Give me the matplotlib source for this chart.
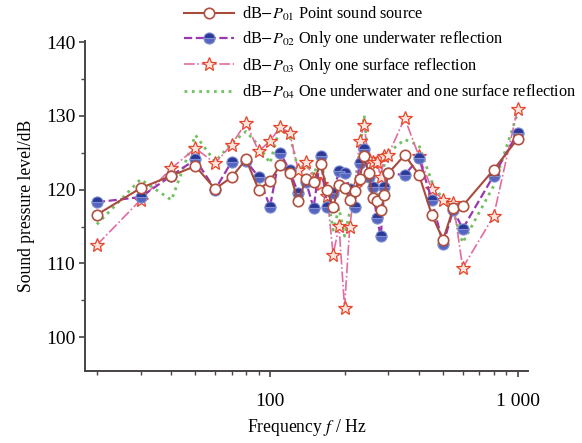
import matplotlib
matplotlib.use("Agg")
import matplotlib.pyplot as plt
from matplotlib.ticker import FixedLocator, NullFormatter, MultipleLocator

plt.rcParams['font.family'] = ['Liberation Serif', 'DejaVu Serif']
plt.rcParams['mathtext.fontset'] = 'stix'

freq = [20, 30, 40, 50, 60, 70, 80, 90, 100, 110, 120, 130, 140, 150, 160, 170,
        180, 190, 200, 210, 220, 230, 240, 250, 260, 270, 280, 290, 300,
        350, 400, 450, 500, 550, 600, 800, 1000]

p01 = [116.6, 120.2, 121.9, 123.2, 120.1, 121.7, 124.1, 120.0, 121.2, 123.3, 122.3, 118.4,
       121.5, 121.0, 123.5, 120.0, 117.6, 120.7, 120.2, 118.6, 119.8, 121.5, 124.5, 122.3,
       118.9, 118.4, 117.3, 119.3, 122.2, 124.7, 122.0, 116.6, 113.2, 117.5, 117.8, 122.7, 126.9]

p02 = [118.3, 119.0, 121.9, 124.1, 120.0, 123.8, 123.9, 121.7, 117.7, 125.0, 122.6, 119.5,
       121.0, 117.5, 124.5, 117.6, 119.6, 122.5, 122.2, 120.1, 117.6, 123.6, 125.5, 121.7,
       120.3, 116.2, 113.7, 120.3, 122.2, 122.0, 124.3, 118.6, 112.6, 117.3, 114.7, 121.9, 127.7]

p03 = [112.5, 118.6, 122.9, 125.6, 123.6, 126.1, 129.1, 125.2, 126.6, 128.5, 127.7, 122.7,
       123.7, 121.4, 120.8, 119.2, 111.2, 115.1, 104.0, 115.0, 120.3, 126.6, 128.8, 124.1,
       123.8, 123.8, 121.7, 124.5, 124.7, 129.7, 124.5, 120.1, 118.6, 118.2, 109.4, 116.4, 131.0]

p04 = [115.3, 121.4, 118.6, 127.4, 123.8, 126.3, 127.9, 126.0, 123.6, 128.6, 127.5, 122.7,
       123.3, 122.0, 124.5, 119.5, 114.5, 117.5, 113.7, 117.0, 120.5, 125.0, 130.1, 123.6,
       121.0, 118.2, 121.0, 123.5, 125.0, 126.8, 126.0, 121.1, 118.6, 117.0, 112.8, 120.5, 130.4]

labels = [r"dB$-P_{01}$ Point sound source",
          r"dB$-P_{02}$ Only one underwater reflection",
          r"dB$-P_{03}$ Only one surface reflection",
          r"dB$-P_{04}$ One underwater and one surface reflection"]

fig = plt.figure(figsize=(5.82, 4.43), dpi=100)
ax = fig.add_axes([0.146, 0.1625, 0.761, 0.7455])

h1, = ax.plot(freq, p01, '-', color='#a84a3c', lw=1.5, marker='o', ms=7.5,
              mfc='white', mec='#b0503e', mew=1.2, zorder=4, label=labels[0])
h2, = ax.plot(freq, p02, '--', color='#9a38b0', lw=1.6, marker='o', ms=8,
              fillstyle='top', mfc='#2a3898', mfcalt='#5565c0', mec='#7f8ed0', mew=0.8,
              zorder=3, label=labels[1])
h3, = ax.plot(freq, p03, '-.', color='#e46aa0', lw=1.2, marker='*', ms=10,
              mfc='#fde4dc', mec='#e8442a', mew=0.9, zorder=2, label=labels[2])
h4, = ax.plot(freq, p04, ':', color='#72c062', lw=2.0, zorder=1, label=labels[3])

ax.set_xscale('log')
ax.set_xlim(17.9, 1100)
ax.set_ylim(95.4, 140.2)

ax.xaxis.set_major_locator(FixedLocator([100, 1000]))
ax.set_xticklabels(['100', '1 000'])
ax.xaxis.set_minor_locator(FixedLocator([20, 30, 40, 50, 60, 70, 80, 90,
                                         200, 300, 400, 500, 600, 700, 800, 900]))
ax.xaxis.set_minor_formatter(NullFormatter())
ax.yaxis.set_major_locator(FixedLocator([100, 110, 120, 130, 140]))
ax.yaxis.set_minor_locator(MultipleLocator(5))

for s in ['top', 'right']:
    ax.spines[s].set_visible(False)
for s in ['left', 'bottom']:
    ax.spines[s].set_color('#4a4444')
    ax.spines[s].set_linewidth(1.4)

ax.tick_params(axis='both', which='major', direction='out', length=4, width=1.2,
               color='#4a4444', labelsize=14)
ax.tick_params(axis='y', which='major', pad=3)
ax.tick_params(axis='x', which='major', pad=12)
ax.tick_params(axis='both', which='minor', direction='out', length=3, width=1.0,
               color='#4a4444')

ax.set_ylabel('Sound pressure level/dB', fontsize=12.7, labelpad=8)
ax.set_xlabel(r'Frequency $f$ / Hz', fontsize=12.7, labelpad=5)

leg = fig.legend(handles=[h1, h2, h3, h4], loc='upper left',
                 bbox_to_anchor=(0.316, 0.99), frameon=False, fontsize=11.7,
                 handlelength=3.1, handletextpad=0.5, labelspacing=0.42,
                 borderpad=0, borderaxespad=0)

fig.savefig('out.png', dpi=100)
